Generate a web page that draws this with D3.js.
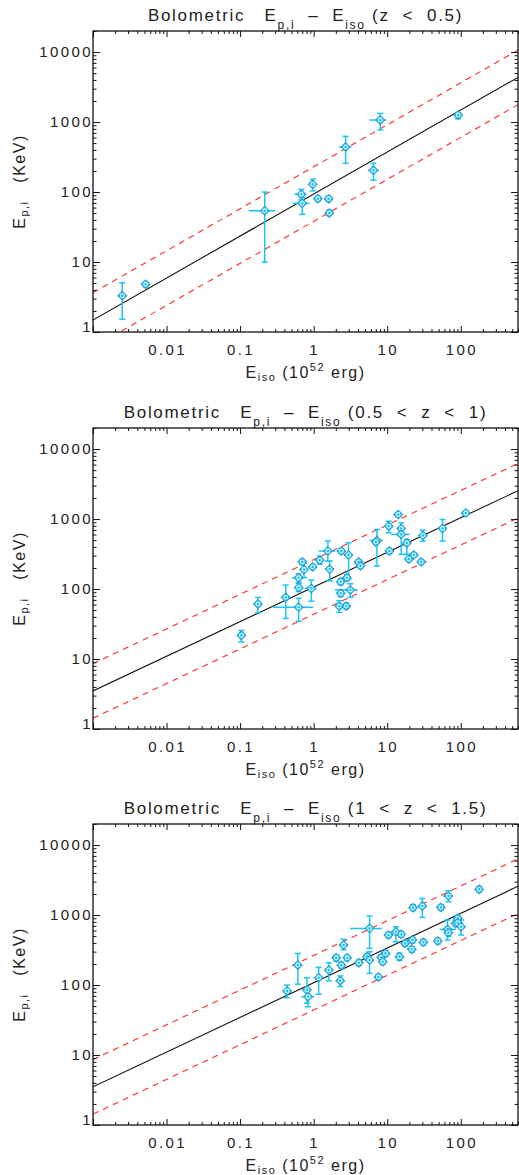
<!DOCTYPE html>
<html>
<head>
<meta charset="utf-8">
<script src="https://cdn.jsdelivr.net/npm/d3@7"></script>
<style>
  html, body { margin: 0; padding: 0; background: #fff; }
  svg { display: block; font-family: "Liberation Sans", Arial, sans-serif; }
</style>
</head>
<body>
<div id="viz"></div>
<script>
const W = 519;
const H = 1175;
const PLOT_LEFT = 93;
const PLOT_RIGHT = 518;
const PLOT_HEIGHT = 301;
const PANEL_TOPS = [31, 428, 824];

const X_DOMAIN = [0.001, 600];
const Y_DOMAIN = [1, 20000];
const X_TICK_VALUES = [0.01, 0.1, 1, 10, 100];
const X_TICK_LABELS = ["0.01", "0.1", "1", "10", "100"];
const Y_TICK_VALUES = [1, 10, 100, 1000, 10000];
const Y_TICK_LABELS = ["1", "10", "100", "1000", "10000"];

const PANEL_Z_RANGES = ["(z < 0.5)", "(0.5 < z < 1)", "(1 < z < 1.5)"];

// best fit Ep,i = norm * Eiso^slope, dashed lines at +/- scatter (dex)
const FIT_NORM = [93.5, 107, 108];
const FIT_SLOPE = [0.60, 0.495, 0.496];
const FIT_SCATTER = [0.39, 0.39, 0.39];

// rows: [Eiso, Ep,i, EisoLo, EisoHi, EpLo, EpHi]
const lowZ = [
  [0.0025, 3.3, 0.00216, 0.0029, 1.52, 5.06],
  [0.0052, 4.8, 0.0049, 0.0056, 4.4, 5.2],
  [0.216, 54, 0.131, 0.30, 10, 100],
  [0.68, 93, 0.55, 0.80, 77, 109],
  [0.70, 69, 0.52, 0.88, 48, 84],
  [0.97, 129, 0.92, 1.03, 104, 153],
  [1.14, 80, 1.06, 1.22, 74, 87],
  [1.6, 80, 1.5, 1.7, 74, 87],
  [1.63, 50, 1.55, 1.72, 46, 55],
  [2.72, 440, 2.21, 3.25, 257, 625],
  [6.5, 204, 5.45, 7.7, 148, 257],
  [8.05, 1068, 5.75, 9.7, 769, 1330],
  [92, 1259, 86, 98, 1114, 1358]
];

const midZ = [
  [0.104, 21.8, 0.097, 0.112, 17.5, 25.6],
  [0.175, 61, 0.165, 0.185, 45.7, 76],
  [0.417, 76, 0.37, 0.47, 38, 114],
  [0.625, 55, 0.28, 0.98, 34.7, 73.6],
  [0.625, 105, 0.59, 0.66, 92, 120],
  [0.625, 145, 0.51, 0.755, 125, 165],
  [0.70, 244, 0.66, 0.74, 225, 265],
  [0.74, 190, 0.70, 0.78, 146, 238],
  [0.93, 102, 0.755, 1.09, 67, 134],
  [0.97, 207, 0.92, 1.02, 195, 220],
  [1.21, 258, 1.15, 1.27, 226, 297],
  [1.56, 349, 1.17, 1.97, 251, 484],
  [1.65, 192, 1.57, 1.73, 131, 251],
  [2.38, 349, 2.27, 2.5, 320, 380],
  [2.98, 307, 2.84, 3.13, 139, 458],
  [2.33, 127, 2.22, 2.45, 115, 140],
  [2.83, 145, 2.7, 2.97, 132, 160],
  [3.15, 97, 1.93, 4.0, 76, 119],
  [2.33, 87, 2.22, 2.45, 78, 97],
  [2.23, 57, 2.12, 2.34, 46.5, 68],
  [2.78, 57, 2.65, 2.92, 52, 63],
  [4.08, 244, 3.9, 4.28, 228, 262],
  [4.35, 214, 4.15, 4.57, 200, 230],
  [7.25, 495, 5.75, 8.7, 214, 710],
  [7.0, 469, 6.7, 7.35, 440, 500],
  [10.7, 349, 10.2, 11.2, 320, 380],
  [10.5, 791, 10.0, 11.0, 635, 931],
  [14.1, 1159, 13.4, 14.8, 1080, 1240],
  [15.5, 733, 14.8, 16.3, 650, 880],
  [15.5, 603, 11.3, 20.1, 313, 733],
  [18.5, 454, 17.6, 19.4, 313, 512],
  [19.7, 267, 18.8, 20.7, 250, 285],
  [23, 307, 21.9, 24.1, 290, 325],
  [29, 244, 27.6, 30.4, 228, 262],
  [30.5, 583, 29, 32, 484, 693],
  [56.5, 733, 53.8, 59.3, 484, 984],
  [117, 1221, 111, 123, 1140, 1300]
];

const highZ = [
  [0.435, 82, 0.40, 0.47, 66, 100],
  [0.61, 193, 0.58, 0.64, 103, 283],
  [0.81, 85, 0.77, 0.85, 55, 127],
  [0.84, 68, 0.68, 1.01, 49, 85],
  [1.17, 127, 1.11, 1.23, 74, 179],
  [1.61, 164, 1.53, 1.69, 115, 208],
  [2.03, 245, 1.93, 2.13, 220, 270],
  [2.3, 115, 2.19, 2.41, 95, 135],
  [2.38, 191, 2.27, 2.5, 175, 210],
  [2.55, 373, 2.43, 2.67, 320, 450],
  [2.86, 245, 2.72, 3.0, 225, 265],
  [4.12, 208, 3.92, 4.32, 190, 228],
  [5.3, 254, 5.05, 5.55, 232, 278],
  [5.76, 645, 3.13, 8.5, 334, 968],
  [5.76, 228, 5.48, 6.05, 147, 299],
  [8.3, 249, 7.9, 8.7, 228, 272],
  [8.7, 215, 8.3, 9.1, 197, 235],
  [9.5, 283, 9.0, 10.0, 258, 310],
  [7.6, 130, 7.2, 8.0, 120, 141],
  [10.4, 518, 9.9, 10.9, 473, 567],
  [13.1, 578, 12.5, 13.8, 416, 680],
  [15.5, 530, 14.8, 16.3, 485, 580],
  [14.7, 254, 14.0, 15.4, 225, 285],
  [17.5, 394, 16.7, 18.4, 360, 430],
  [22, 440, 21, 23, 400, 480],
  [21.6, 324, 20.6, 22.7, 296, 354],
  [22.5, 1273, 21.4, 23.6, 1160, 1400],
  [30, 1344, 28.5, 31.5, 927, 1730],
  [31, 407, 29.5, 32.5, 372, 445],
  [48.7, 425, 46.4, 51, 388, 465],
  [53.5, 1288, 51, 56, 1175, 1410],
  [68, 1870, 58, 78, 1549, 2224],
  [66, 624, 51.4, 86.5, 440, 849],
  [68, 560, 64.5, 71.5, 500, 620],
  [85, 761, 81, 89, 690, 840],
  [91, 896, 86, 96, 815, 985],
  [91, 776, 86, 96, 700, 850],
  [101, 680, 96, 106, 518, 849],
  [178, 2330, 169, 187, 2130, 2550]
];

const PANEL_DATA = [lowZ, midZ, highZ];

const INK = "#222";
const CYAN = "#18c6f5";
const MARKER_EDGE = "#3a8fc4";
const RED = "#ff2a2a";

const svg = d3.select("#viz").append("svg")
  .attr("width", W)
  .attr("height", H)
  .attr("viewBox", `0 0 ${W} ${H}`);

function drawTitle(g, cx, y, zRange) {
  const t = g.append("text")
    .attr("x", cx)
    .attr("y", y)
    .attr("text-anchor", "middle")
    .attr("fill", INK)
    .attr("font-size", 17)
    .attr("letter-spacing", 1.7)
    .style("white-space", "pre");
  t.append("tspan").text("Bolometric   E");
  t.append("tspan").attr("font-size", 12).attr("dy", 8).text("p,i");
  t.append("tspan").attr("dy", -8).text("  \u2013  E");
  t.append("tspan").attr("font-size", 12).attr("dy", 8).text("iso");
  t.append("tspan").attr("dy", -8).text(" " + zRange.split(" ").join("  "));
}

function drawXLabel(g, cx, y) {
  const t = g.append("text")
    .attr("x", cx)
    .attr("y", y)
    .attr("text-anchor", "middle")
    .attr("fill", INK)
    .attr("font-size", 16)
    .attr("letter-spacing", 1.5)
    .style("white-space", "pre");
  t.append("tspan").text("E");
  t.append("tspan").attr("font-size", 11).attr("dy", 3).text("iso");
  t.append("tspan").attr("dy", -3).text(" (10");
  t.append("tspan").attr("font-size", 11).attr("dy", -7).text("52");
  t.append("tspan").attr("dy", 7).text(" erg)");
}

function drawYLabel(g, x, cy) {
  const t = g.append("text")
    .attr("transform", `translate(${x},${cy}) rotate(-90)`)
    .attr("text-anchor", "middle")
    .attr("fill", INK)
    .attr("font-size", 16)
    .attr("letter-spacing", 1.5)
    .style("white-space", "pre");
  t.append("tspan").text("E");
  t.append("tspan").attr("font-size", 11).attr("dy", 3).text("p,i");
  t.append("tspan").attr("dy", -3).text("   (KeV)");
}

function drawPanel(i) {
  const top = PANEL_TOPS[i];
  const bottom = top + PLOT_HEIGHT;
  const data = PANEL_DATA[i];
  const g = svg.append("g");

  const x = d3.scaleLog().domain(X_DOMAIN).range([PLOT_LEFT, PLOT_RIGHT]);
  const y = d3.scaleLog().domain(Y_DOMAIN).range([bottom, top]);

  const clipId = `clip-${i}`;
  svg.append("clipPath").attr("id", clipId)
    .append("rect")
    .attr("x", PLOT_LEFT).attr("y", top)
    .attr("width", PLOT_RIGHT - PLOT_LEFT).attr("height", PLOT_HEIGHT);

  const plot = g.append("g").attr("clip-path", `url(#${clipId})`);

  // fit and scatter lines
  const fitAt = (e, off) => FIT_NORM[i] * Math.pow(e, FIT_SLOPE[i]) * Math.pow(10, off);
  const line = d3.line().x(d => x(d[0])).y(d => y(d[1]));
  [-FIT_SCATTER[i], FIT_SCATTER[i]].forEach(off => {
    plot.append("path")
      .attr("d", line(X_DOMAIN.map(e => [e, fitAt(e, off)])))
      .attr("fill", "none")
      .attr("stroke", RED)
      .attr("stroke-width", 1.1)
      .attr("stroke-dasharray", "6,5");
  });
  plot.append("path")
    .attr("d", line(X_DOMAIN.map(e => [e, fitAt(e, 0)])))
    .attr("fill", "none")
    .attr("stroke", "#111")
    .attr("stroke-width", 1.1);

  // error bars
  const bars = plot.append("g")
    .attr("stroke", CYAN)
    .attr("stroke-width", 1.5)
    .attr("fill", "none");
  data.forEach(d => {
    const cx = x(d[0]);
    const cy = y(d[1]);
    bars.append("line")
      .attr("x1", x(d[2])).attr("x2", x(d[3]))
      .attr("y1", cy).attr("y2", cy);
    bars.append("line")
      .attr("x1", cx).attr("x2", cx)
      .attr("y1", y(d[4])).attr("y2", y(d[5]));
    [d[4], d[5]].forEach(v => {
      bars.append("line")
        .attr("x1", cx - 3).attr("x2", cx + 3)
        .attr("y1", y(v)).attr("y2", y(v));
    });
  });

  // diamond markers
  const marks = plot.append("g");
  data.forEach(d => {
    const m = marks.append("g")
      .attr("transform", `translate(${x(d[0])},${y(d[1])})`);
    m.append("path")
      .attr("d", "M0,-4.6L4.6,0L0,4.6L-4.6,0Z")
      .attr("fill", CYAN)
      .attr("stroke", MARKER_EDGE)
      .attr("stroke-width", 1);
    m.append("circle")
      .attr("r", 1.9)
      .attr("fill", "none")
      .attr("stroke", "#dff7ff")
      .attr("stroke-width", 1.1);
  });

  // frame
  g.append("rect")
    .attr("x", PLOT_LEFT).attr("y", top)
    .attr("width", PLOT_RIGHT - PLOT_LEFT).attr("height", PLOT_HEIGHT)
    .attr("fill", "none")
    .attr("stroke", "#111")
    .attr("stroke-width", 1.3);

  // inward ticks on all four sides
  const isMajor = v => Math.abs(Math.log10(v) - Math.round(Math.log10(v))) < 1e-9;
  const xAll = x.ticks();
  const yAll = y.ticks();
  const xMinor = xAll.filter(v => !isMajor(v));
  const xMajor = xAll.filter(isMajor);
  const yMinor = yAll.filter(v => !isMajor(v));
  const yMajor = yAll.filter(isMajor);

  const axisSpecs = [
    [d3.axisBottom(x), `translate(0,${bottom})`, xMajor, xMinor, 6, 3],
    [d3.axisTop(x), `translate(0,${top})`, xMajor, xMinor, 6, 3],
    [d3.axisLeft(y), `translate(${PLOT_LEFT},0)`, yMajor, yMinor, 7, 3.5],
    [d3.axisRight(y), `translate(${PLOT_RIGHT},0)`, yMajor, yMinor, 7, 3.5]
  ];
  axisSpecs.forEach(([axisFn, tr, major, minor, bigLen, smallLen]) => {
    [[major, bigLen], [minor, smallLen]].forEach(([vals, len]) => {
      const ax = g.append("g")
        .attr("transform", tr)
        .call(axisFn.tickValues(vals).tickSize(-len).tickFormat(""));
      ax.select(".domain").remove();
      ax.selectAll("line").attr("stroke", "#111").attr("stroke-width", 1);
    });
  });

  // tick labels
  X_TICK_VALUES.forEach((v, k) => {
    g.append("text")
      .attr("x", x(v) + 1)
      .attr("y", bottom + 23)
      .attr("text-anchor", "middle")
      .attr("fill", INK)
      .attr("font-size", 15)
      .attr("letter-spacing", 2.4)
      .text(X_TICK_LABELS[k]);
  });
  Y_TICK_VALUES.forEach((v, k) => {
    g.append("text")
      .attr("x", PLOT_LEFT)
      .attr("y", v === Y_DOMAIN[0] ? bottom : y(v) + 5.3)
      .attr("text-anchor", "end")
      .attr("fill", INK)
      .attr("font-size", 15)
      .attr("letter-spacing", 2.4)
      .text(Y_TICK_LABELS[k]);
  });

  const cx = (PLOT_LEFT + PLOT_RIGHT) / 2;
  drawTitle(g, cx, top - 10, PANEL_Z_RANGES[i]);
  drawXLabel(g, cx, bottom + 46);
  drawYLabel(g, 25, (top + bottom) / 2);
}

PANEL_DATA.forEach((_, i) => drawPanel(i));
</script>
</body>
</html>
